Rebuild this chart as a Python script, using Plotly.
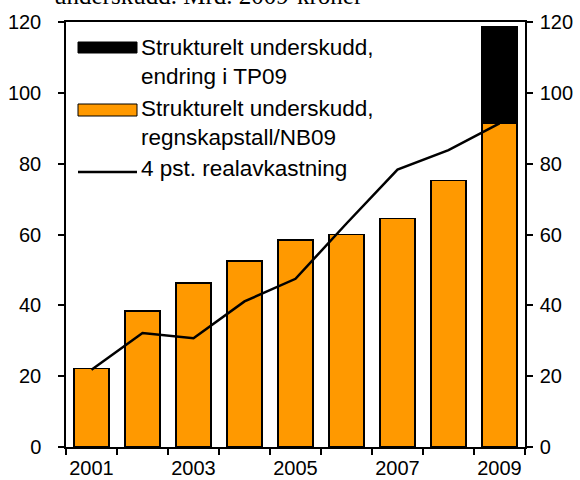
import plotly.graph_objects as go

years = [2001, 2002, 2003, 2004, 2005, 2006, 2007, 2008, 2009]
regnskap = [22.1, 38.4, 46.3, 52.5, 58.4, 60.0, 64.5, 75.2, 91.4]
endring = [0, 0, 0, 0, 0, 0, 0, 0, 27.4]
realavkastning = [21.8, 32.2, 30.7, 41.1, 47.5, 63.1, 78.3, 83.8, 91.4]
year_labels = ["2001", "2003", "2005", "2007", "2009"]
year_label_vals = [2001, 2003, 2005, 2007, 2009]
y_ticks = [0, 20, 40, 60, 80, 100, 120]

legend_texts = [
    "Strukturelt underskudd,<br>endring i TP09",
    "Strukturelt underskudd,<br>regnskapstall/NB09",
    "4 pst. realavkastning",
]

ORANGE = "#FF9900"
FONT = "Liberation Sans"

W, H = 580, 480
L, R, T, B = 66, 55, 22, 33
PW, PH = W - L - R, H - T - B


def px(x):
    return (x - L) / PW


def py(y):
    return (H - B - y) / PH


fig = go.Figure()
fig.add_trace(go.Bar(x=years, y=regnskap, marker=dict(color=ORANGE, line=dict(color="black", width=1.5)),
                     name="regnskap", showlegend=False))
fig.add_trace(go.Bar(x=years, y=endring, marker=dict(color="black", line=dict(color="black", width=1.5)),
                     name="endring", showlegend=False))
fig.add_trace(go.Scatter(x=years, y=realavkastning, mode="lines", line=dict(color="black", width=2.5),
                         name="real", showlegend=False))
# invisible trace for right axis
fig.add_trace(go.Scatter(x=[years[0]], y=[0], yaxis="y2", mode="markers", marker=dict(opacity=0),
                         showlegend=False, hoverinfo="skip"))

fig.update_layout(
    width=W, height=H,
    margin=dict(l=L, r=R, t=T, b=B, autoexpand=False),
    paper_bgcolor="white", plot_bgcolor="white",
    barmode="stack", bargap=0.32,
    font=dict(family=FONT, size=20, color="black"),
    xaxis=dict(
        range=[2000.5, 2009.5], tickvals=year_label_vals, ticktext=year_labels,
        ticks="", showgrid=False, zeroline=False, automargin=False,
        showline=True, linecolor="black", linewidth=1.5, mirror=True,
        tickfont=dict(size=20), ticklabelstandoff=2,
        minor=dict(tick0=2000.5, dtick=1, ticks="outside", ticklen=6, tickcolor="black", tickwidth=1.5, showgrid=False),
    ),
    yaxis=dict(
        range=[0, 120], tickvals=y_ticks, ticks="outside", ticklen=6, tickcolor="black", tickwidth=1.5,
        showgrid=False, zeroline=False, showline=True, linecolor="black", linewidth=1.5, automargin=False,
        tickfont=dict(size=20), ticklabelstandoff=13,
    ),
    yaxis2=dict(
        range=[0, 120], tickvals=y_ticks, ticks="outside", ticklen=6, tickcolor="black", tickwidth=1.5,
        overlaying="y", side="right", showgrid=False, zeroline=False, showline=True, automargin=False,
        linecolor="black", linewidth=1.5, tickfont=dict(size=20), ticklabelstandoff=3,
    ),
    showlegend=False,
)

# custom legend
sw_x0, sw_x1 = 78, 137
shapes = [
    dict(type="rect", xref="paper", yref="paper", x0=px(sw_x0), x1=px(sw_x1), y0=py(53), y1=py(42),
         fillcolor="black", line=dict(color="black", width=1)),
    dict(type="rect", xref="paper", yref="paper", x0=px(sw_x0), x1=px(sw_x1), y0=py(116), y1=py(104),
         fillcolor=ORANGE, line=dict(color="black", width=1)),
    dict(type="line", xref="paper", yref="paper", x0=px(sw_x0), x1=px(sw_x1), y0=py(172), y1=py(172),
         line=dict(color="black", width=2.5)),
]
fig.update_layout(shapes=shapes)

legend_y = [62, 123, 169]
for txt, yy in zip(legend_texts, legend_y):
    fig.add_annotation(xref="paper", yref="paper", x=px(139), y=py(yy), text=txt, showarrow=False,
                       xanchor="left", yanchor="middle", align="left",
                       font=dict(family=FONT, size=22.5, color="black"))

# cut-off title at top
fig.add_annotation(xref="paper", yref="paper", x=px(52), y=1 + (T - 11) / PH,
                   text="underskudd. Mrd. 2009-kroner", showarrow=False, xanchor="left", yanchor="bottom",
                   font=dict(family="Liberation Serif", size=25, color="black"))

fig.write_html("out.html", config={"displayModeBar": False},
               post_script="document.body.style.margin='0px';")
